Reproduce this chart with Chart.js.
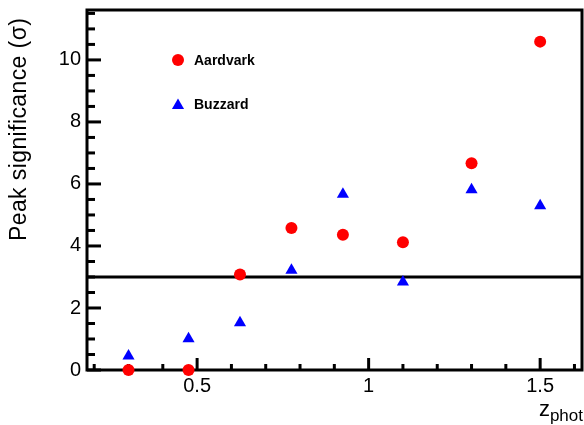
<!DOCTYPE html>
<html>
<head>
<meta charset="utf-8">
<script src="https://cdn.jsdelivr.net/npm/chart.js@4/dist/chart.umd.min.js"></script>
<style>
  html, body { margin: 0; padding: 0; background: #fff; }
  canvas { display: block; }
</style>
</head>
<body>
<canvas id="c" width="584" height="425"></canvas>
<script>
// Photometric-redshift bin centres
const zBins = [0.3, 0.475, 0.625, 0.775, 0.925, 1.1, 1.3, 1.5];
// Peak significance per bin, in sigma
const aardvark = [0, 0, 3.08, 4.58, 4.36, 4.12, 6.67, 10.59];
const buzzard = [0.45, 1.01, 1.52, 3.22, 5.67, 2.84, 5.81, 5.30];
// Axis tick labels and the reference threshold
const xTickLabels = [0.5, 1, 1.5];
const yTickLabels = [0, 2, 4, 6, 8, 10];
const threshold = 3;

const FONT = '"Liberation Sans", Arial, Helvetica, sans-serif';

const toPoints = (xs, ys) => xs.map((x, i) => ({ x: x, y: ys[i] }));

const framePlugin = {
  id: 'frame',
  beforeDatasetsDraw(chart) {
    const ctx = chart.ctx;
    const a = chart.chartArea;
    const xs = chart.scales.x, ys = chart.scales.y;
    ctx.save();
    ctx.strokeStyle = '#000';
    ctx.lineWidth = 3;
    ctx.lineCap = 'butt';
    ctx.strokeRect(a.left, a.top, a.right - a.left, a.bottom - a.top);

    // threshold line
    const yt = ys.getPixelForValue(threshold);
    ctx.beginPath();
    ctx.moveTo(a.left, yt);
    ctx.lineTo(a.right, yt);
    ctx.stroke();

    // x ticks (inside, pointing up)
    for (let v = 0.2; v <= xs.max + 1e-9; v += 0.1) {
      const vv = Math.round(v * 10) / 10;
      const px = xs.getPixelForValue(vv);
      const major = Math.abs(vv * 2 - Math.round(vv * 2)) < 1e-6;
      ctx.beginPath();
      ctx.moveTo(px, a.bottom);
      ctx.lineTo(px, a.bottom - (major ? 12 : 6));
      ctx.stroke();
    }
    // y ticks (inside, pointing right)
    for (let v = 0; v <= ys.max + 1e-9; v += 0.5) {
      const py = ys.getPixelForValue(v);
      const major = Math.abs(v / 2 - Math.round(v / 2)) < 1e-6;
      ctx.beginPath();
      ctx.moveTo(a.left, py);
      ctx.lineTo(a.left + (major ? 14 : 8), py);
      ctx.stroke();
    }

    // tick labels
    ctx.fillStyle = '#000';
    ctx.font = '20px ' + FONT;
    ctx.textAlign = 'right';
    ctx.textBaseline = 'middle';
    yTickLabels.forEach(v => {
      ctx.fillText(String(v), a.left - 6, ys.getPixelForValue(v));
    });
    ctx.textAlign = 'center';
    ctx.textBaseline = 'alphabetic';
    xTickLabels.forEach(v => {
      ctx.fillText(String(v), xs.getPixelForValue(v), 392);
    });

    // y axis title
    ctx.save();
    ctx.translate(26, 241);
    ctx.rotate(-Math.PI / 2);
    ctx.font = '23px ' + FONT;
    ctx.letterSpacing = '0.4px';
    ctx.textAlign = 'left';
    ctx.textBaseline = 'alphabetic';
    ctx.fillText('Peak significance (\u03c3)', 0, 0);
    ctx.restore();

    // x axis title: z with subscript "phot"
    ctx.font = '17px ' + FONT;
    ctx.textAlign = 'right';
    const subW = ctx.measureText('phot').width;
    ctx.fillText('phot', 583, 421);
    ctx.font = '22px ' + FONT;
    ctx.fillText('z', 583 - subW, 416);

    // legend
    const entries = [
      { label: 'Aardvark', ds: chart.data.datasets[0], y: 60 },
      { label: 'Buzzard', ds: chart.data.datasets[1], y: 104 }
    ];
    ctx.font = 'bold 14px ' + FONT;
    ctx.textAlign = 'left';
    ctx.textBaseline = 'middle';
    entries.forEach(e => {
      ctx.fillStyle = e.ds.backgroundColor;
      ctx.strokeStyle = e.ds.backgroundColor;
      ctx.lineWidth = 0;
      Chart.helpers.drawPoint(ctx, {
        pointStyle: e.ds.pointStyle,
        radius: e.ds.pointRadius,
        borderWidth: 0,
        rotation: 0
      }, 178, e.y + (e.ds.pointStyle === 'triangle' ? 1.5 : 0));
      ctx.fillStyle = '#000';
      ctx.fillText(e.label, 194, e.y + 1);
    });
    ctx.restore();
  }
};

new Chart(document.getElementById('c'), {
  type: 'scatter',
  data: {
    datasets: [
      {
        label: 'Aardvark',
        data: toPoints(zBins, aardvark),
        pointStyle: 'circle',
        pointRadius: 6,
        pointHoverRadius: 6,
        backgroundColor: '#ff0000',
        borderColor: '#ff0000',
        borderWidth: 0,
        clip: false
      },
      {
        label: 'Buzzard',
        data: toPoints(zBins, buzzard),
        pointStyle: 'triangle',
        pointRadius: 7,
        pointHoverRadius: 7,
        backgroundColor: '#0000ff',
        borderColor: '#0000ff',
        borderWidth: 0,
        clip: false
      }
    ]
  },
  options: {
    responsive: false,
    animation: false,
    events: [],
    layout: { autoPadding: false, padding: { left: 87, top: 10, right: 2, bottom: 55 } },
    plugins: { legend: { display: false }, tooltip: { enabled: false } },
    scales: {
      x: { type: 'linear', min: 0.179, max: 1.622, display: false },
      y: { type: 'linear', min: 0, max: 11.61, display: false }
    }
  },
  plugins: [framePlugin]
});
</script>
</body>
</html>
